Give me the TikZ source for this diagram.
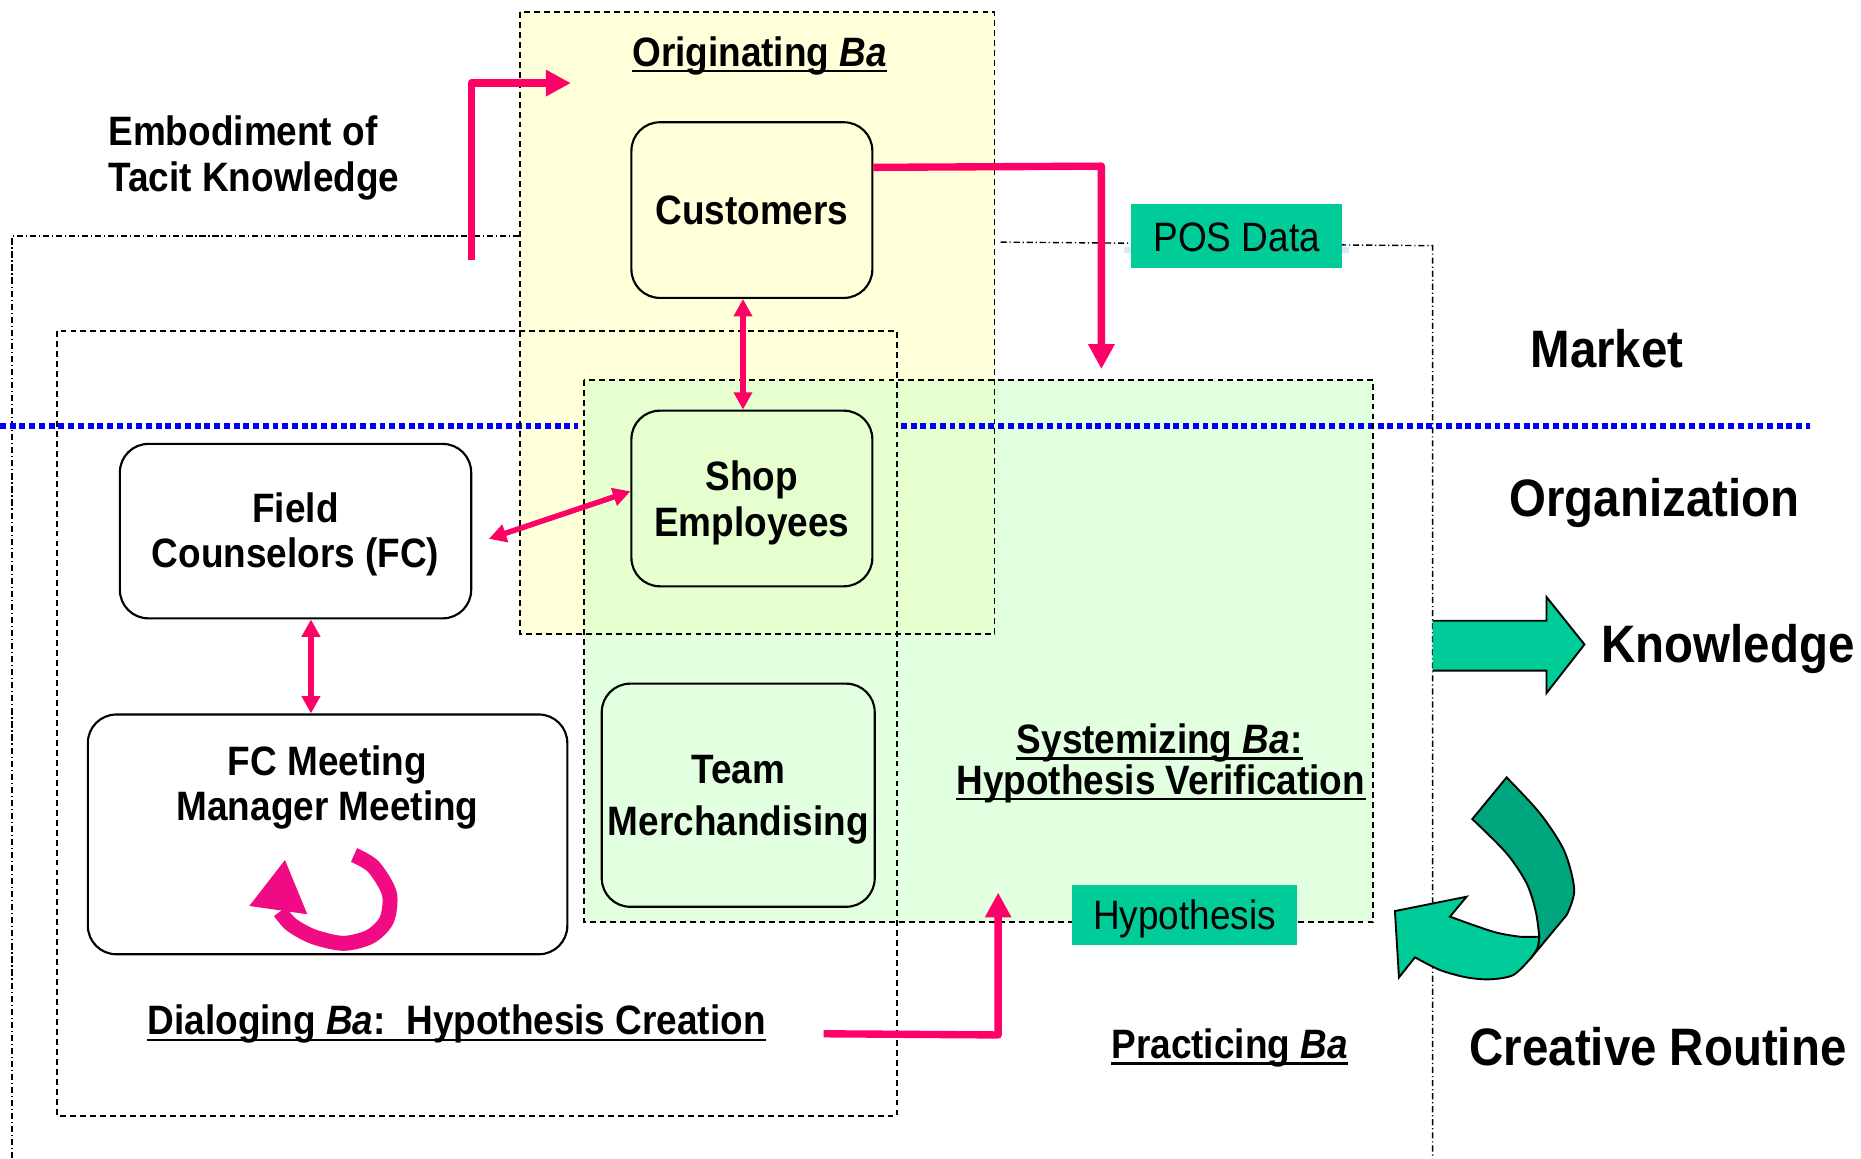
\documentclass[tikz,border=0pt]{standalone}
\usepackage{fontspec}
\setmainfont{Liberation Sans}[FakeStretch=0.9]
\usetikzlibrary{arrows.meta,calc}

\definecolor{tealA}{RGB}{0,204,153}
\definecolor{tealB}{RGB}{0,166,126}
\definecolor{pinkc}{RGB}{255,0,102}
\definecolor{magc}{RGB}{240,10,132}
\definecolor{yel}{RGB}{255,255,218}
\definecolor{grn}{RGB}{226,255,224}
\definecolor{ovl}{RGB}{229,255,206}
\definecolor{dotblue}{RGB}{0,0,250}
\definecolor{posblue}{RGB}{215,232,250}

\newcommand\tfmain{\fontsize{17.3}{19.2}\selectfont\bfseries}
\newcommand\tfbig{\fontsize{22.2}{24}\selectfont\bfseries}
\newcommand\tfreg{\fontsize{17.3}{19}\selectfont}

\begin{document}
\begin{tikzpicture}[x=0.5pt,y=-0.5pt,
  box/.style={draw=black, line width=0.9pt, rounded corners=12pt, align=center, font=\tfmain, inner sep=0pt},
  tag/.style={fill=tealA, font=\tfreg, inner sep=0pt, text height=12.5pt, text depth=0pt},
  lbl/.style={font=\tfmain, inner sep=0pt, anchor=base},
  big/.style={font=\tfbig, inner sep=0pt, anchor=base},
  regdash/.style={dash pattern=on 2.5pt off 1.7pt, line width=0.75pt},
  dashdot/.style={dash pattern=on 2.6pt off 1.2pt on 0.5pt off 1.2pt, line width=0.6pt},
  thickarrow/.style={draw=pinkc, line width=3.1pt, line join=round, -{Triangle[length=10.5pt,width=10.5pt]}},
  thinarrow/.style={draw=pinkc, line width=2.3pt, {Triangle[length=7.3pt,width=7.5pt]}-{Triangle[length=7.3pt,width=7.5pt]}},
  uline/.style={line width=1pt},
  blueline/.style={draw=dotblue, line width=2.5pt, dash pattern=on 2.5pt off 1.6pt},
  outl/.style={draw=black, line width=0.8pt},
]
\useasboundingbox (0,0) rectangle (1568,976);

% Practicing Ba (dash-dot frame)
\draw[dashdot] (10,976) -- (10,199) -- (440,199);
\draw[dashdot] (843,204) -- (1207,207) -- (1207,976);

% region fills
\fill[yel] (438,10) rectangle (838,534);
\fill[grn] (492,320) rectangle (1157,777);
\fill[ovl] (492,320) rectangle (838,534);

% market / organization border
\draw[blueline] (0,359) -- (487,359);
\draw[blueline] (759,359) -- (1525,359);

% dashed region borders
\draw[regdash] (438,10) rectangle (838,534);
\draw[regdash] (492,320) rectangle (1157,777);
\draw[regdash] (48,279) rectangle (756,940);

% titles
\node[lbl] (orig) at (640,56) {Originating \textit{Ba}};
\draw[uline] ($(orig.base west)+(0,4)$) -- ($(orig.base east)+(0,4)$);

\node[lbl, anchor=base west] (emb1) at (91,123) {Embodiment of};
\node[lbl, anchor=base west] (emb2) at (91,161) {Tacit Knowledge};

\node[lbl] (sys1) at (977,635) {Systemizing \textit{Ba}:};
\draw[uline] ($(sys1.base west)+(0,4)$) -- ($(sys1.base east)+(0,4)$);
\node[lbl] (sys2) at (978,669) {Hypothesis Verification};
\draw[uline] ($(sys2.base west)+(0,4)$) -- ($(sys2.base east)+(0,4)$);

\node[lbl, anchor=base west] (dia) at (124,872) {Dialoging \textit{Ba}:\ \ Hypothesis Creation};
\draw[uline] ($(dia.base west)+(0,4)$) -- ($(dia.base east)+(0,4)$);

\node[lbl] (prac) at (1036,892) {Practicing \textit{Ba}};
\draw[uline] ($(prac.base west)+(0,4)$) -- ($(prac.base east)+(0,4)$);

\node[big] (market) at (1354,310) {Market};
\node[big] (orgn) at (1394,435) {Organization};
\node[big, anchor=base west] (know) at (1349,558) {Knowledge};
\node[big] (crea) at (1397,898) {Creative Routine};

% boxes
\node[box, fill=yel, minimum width=101.5pt, minimum height=74pt] (cust) at (633.5,177) {Customers};
\node[box, fill=ovl, minimum width=101.5pt, minimum height=74pt] (shop) at (633.5,420) {};
\node[lbl] (shop1) at (633.5,413) {Shop};
\node[lbl] (shop2) at (633.5,452) {Employees};
\node[box, fill=white, minimum width=148pt, minimum height=73.5pt] (fc) at (249,447.5) {};
\node[lbl] (fc1) at (249,440) {Field};
\node[lbl] (fc2) at (249,478) {Counselors (FC)};
\node[box, fill=white, minimum width=202pt, minimum height=101pt] (fcm) at (276,703) {};
\node[lbl] (fcm1) at (276,653) {FC Meeting};
\node[lbl] (fcm2) at (276,691) {Manager Meeting};
\node[box, fill=grn, minimum width=115pt, minimum height=94pt] (team) at (622,670) {};
\node[lbl] (team1) at (622,660) {Team};
\node[lbl] (team2) at (622,704) {Merchandising};

% tags
\fill[posblue] (947,208) rectangle (1137,213);
\node[tag, minimum width=89pt, minimum height=27pt] (pos) at (1042,199) {POS Data};
\node[tag, minimum width=95pt, minimum height=25pt] (hyp) at (998,771) {Hypothesis};

% connectors
\coordinate (embS) at (397,219);
\coordinate (embC) at (397,70);
\coordinate (embE) at (481,70);
\draw[thickarrow] (embS) -- (embC) -- (embE);

\coordinate (cdC) at (928,140);
\coordinate (cdE) at (928,311);
\draw[thickarrow] ($(cust.east)+(0,-36)$) -- (cdC) -- (cdE);

\draw[thinarrow] ($(cust.south)+(-7.5,0)$) -- ($(shop.north)+(-7.5,0)$);
\draw[thinarrow] ($(fc.east)+(14,6.5)$) -- ($(shop.west)+(0,-6)$);
\draw[thinarrow] ($(fc.south)+(13,0)$) -- ($(fcm.north)+(-14,0)$);

\coordinate (hbS) at (694,871);
\coordinate (hbC) at (841,872);
\coordinate (hbE) at (841,752);
\draw[thickarrow] (hbS) -- (hbC) -- (hbE);

% circular arrow in meeting box
\draw[magc, line width=6.3pt] plot[smooth] coordinates {(298.3,720.4) (314.6,730.2) (328,752.7) (325.8,775.1) (311.8,789.2) (289.3,794.8) (264,789.2) (245.8,779.3) (235.9,768.1)};
\fill[magc] (240.1,724.6) -- (210.1,763.3) -- (258.9,770.3) -- cycle;

% knowledge block arrow
\fill[tealA] (1207,523) -- (1303,523) -- (1303,503) -- (1335,543) -- (1303,584) -- (1303,565) -- (1207,565) -- cycle;
\draw[outl] (1207,523) -- (1303,523) -- (1303,503) -- (1335,543) -- (1303,584) -- (1303,565) -- (1207,565);

% creative routine curved arrow
\filldraw[outl, fill=tealB] plot[smooth] coordinates {(1269.4,655) (1297.5,685.3) (1318,717) (1326.4,749.9) (1320,770.9)} -- (1289.6,807.5) -- plot[smooth] coordinates {(1289.6,807.5) (1295.3,799) (1296.9,789.2)} -- plot[smooth] coordinates {(1296.9,789.2) (1294,768) (1286.3,744.3) (1269.4,719) (1240.5,690.1)} -- cycle;
\filldraw[outl, fill=tealA] plot[smooth] coordinates {(1296.9,789.2) (1280.7,789.2) (1261,785.8) (1241.3,779.4) (1221.7,772.3)} -- (1235.7,755.5) -- (1175.3,767.6) -- (1178.7,823.5) -- (1192.2,806.6) -- plot[smooth] coordinates {(1192.2,806.6) (1213.3,817.3) (1235.7,823.5) (1255.4,825.1) (1275,821.5) (1289.6,807.5)} -- plot[smooth] coordinates {(1289.6,807.5) (1295.3,799) (1296.9,789.2)} -- cycle;

\end{tikzpicture}
\end{document}
